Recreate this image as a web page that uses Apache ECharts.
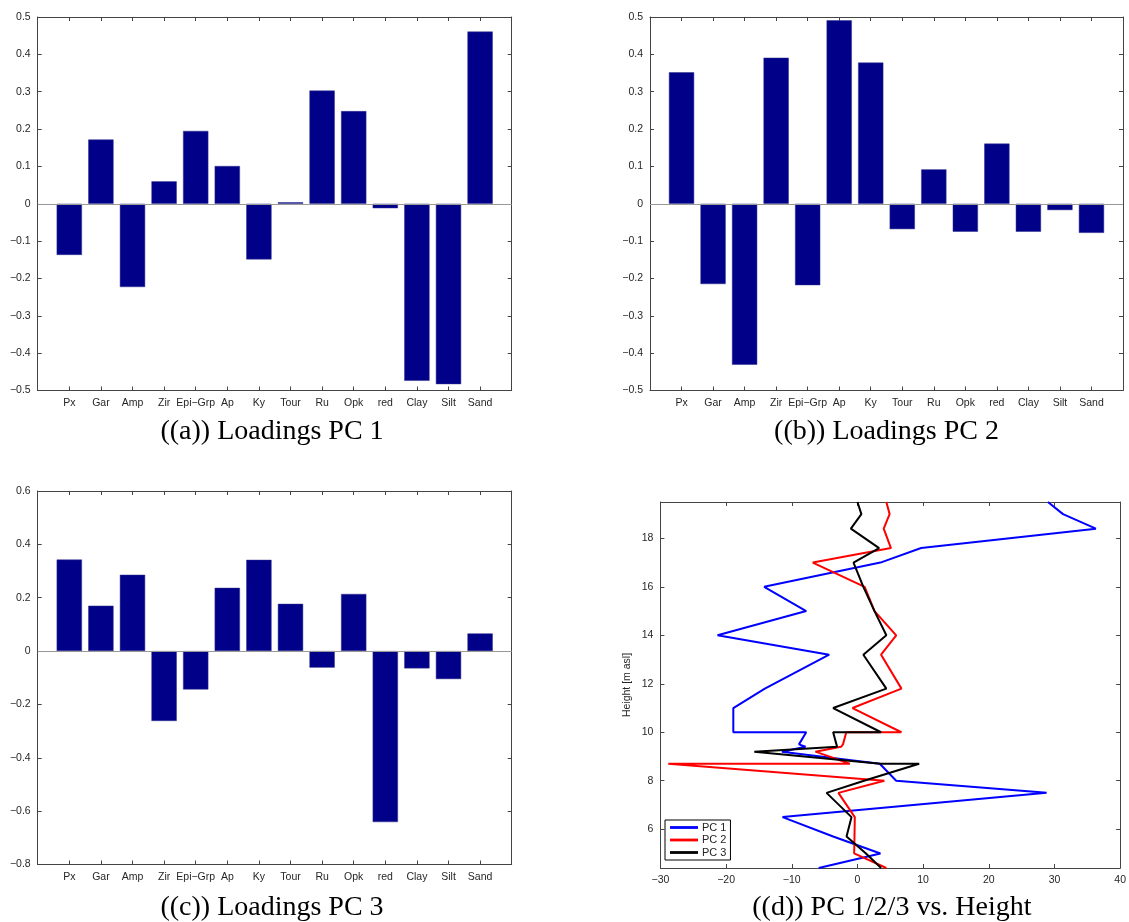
<!DOCTYPE html>
<html>
<head>
<meta charset="utf-8">
<script src="https://cdn.jsdelivr.net/npm/echarts@6/dist/echarts.min.js"></script>
<style>
html,body{margin:0;padding:0;background:#fff;}
#chart{width:1129px;height:922px;}
</style>
</head>
<body>
<div id="chart"></div>
<script>
// ---------- data ----------
const categories = ['Px','Gar','Amp','Zir','Epi\u2212Grp','Ap','Ky','Tour','Ru','Opk','red','Clay','Silt','Sand'];
const loadingsPC1 = [-0.137, 0.172, -0.223, 0.060, 0.195, 0.101, -0.149, 0.004, 0.303, 0.248, -0.012, -0.474, -0.483, 0.461];
const loadingsPC2 = [0.352, -0.215, -0.431, 0.391, -0.218, 0.491, 0.378, -0.068, 0.092, -0.075, 0.161, -0.075, -0.017, -0.078];
const loadingsPC3 = [0.343, 0.170, 0.286, -0.262, -0.144, 0.237, 0.342, 0.177, -0.062, 0.214, -0.641, -0.065, -0.105, 0.066];

const heights = [19.5, 19.0, 18.4, 17.6, 17.0, 16.0, 15.0, 14.0, 13.2, 11.8, 11.0, 10.0, 10.0, 9.5, 9.4, 9.2, 8.7, 8.7, 8.0, 7.5, 6.5, 5.7, 5.0, 4.4];
const scorePC1 = [29.0, 31.3, 36.3, 9.7, 3.5, -14.2, -7.8, -21.3, -4.3, -14.1, -18.9, -18.9, -7.8, -8.9, -7.9, -11.5, 3.4, 3.6, 5.9, 28.8, -11.4, -3.7, 3.5, -5.9];
const scorePC2 = [4.4, 4.9, 4.0, 5.1, -6.8, 1.1, 2.6, 5.9, 3.6, 6.7, -0.75, 6.7, -1.7, -2.2, -2.5, -6.4, -1.15, -28.8, 4.1, -2.9, -0.4, -0.45, -0.5, 4.4];
const scorePC3 = [0.0, 0.6, -1.0, 3.3, -0.6, 0.9, 2.6, 4.4, 0.9, 4.4, -3.7, 3.6, -3.7, -3.2, -3.1, -15.7, 3.5, 9.4, 1.0, -4.7, -0.9, -1.66, 1.3, 3.6];
const heightTicks = [6, 8, 10, 12, 14, 16, 18];
const seriesNames = ['PC 1', 'PC 2', 'PC 3'];
const captions = ['((a)) Loadings PC 1', '((b)) Loadings PC 2', '((c)) Loadings PC 3', '((d)) PC 1/2/3 vs. Height'];

// ---------- styling ----------
const AX = '#444';
const TXT = '#262626';
const FONT = "'Liberation Sans', Arial, Helvetica, sans-serif";
const FS = 10.5;
const BAR = '#000088';
const fmt1 = v => (Math.round(v * 10) / 10).toString().replace('-', '\u2212');
const fmt0 = v => Math.round(v).toString().replace('-', '\u2212');

const grids = [
  {left: 37.7, top: 17, width: 474, height: 373.5},
  {left: 650, top: 17, width: 473, height: 373.5},
  {left: 37.7, top: 491, width: 474, height: 373.5},
  {left: 660.4, top: 502, width: 463, height: 366}
];

const catIdx = categories.map((c, i) => i + 1);
function baseAxis(extra) {
  return Object.assign({
    axisLine: {show: true, onZero: false, lineStyle: {color: AX, width: 1}},
    axisTick: {show: true, inside: true, length: 4, lineStyle: {color: AX, width: 1}},
    splitLine: {show: false},
    axisLabel: {color: TXT, fontFamily: FONT, fontSize: FS, margin: 7}
  }, extra);
}

const xAxes = [], yAxes = [], series = [];
const barSets = [loadingsPC1, loadingsPC2, loadingsPC3];
const yRanges = [[-0.5, 0.5, 0.1], [-0.5, 0.5, 0.1], [-0.8, 0.6, 0.2]];

barSets.forEach((vals, g) => {
  const xi = xAxes.length;
  xAxes.push(baseAxis({type: 'value', gridIndex: g, position: 'bottom', min: 0, max: 15,
    axisTick: {show: true, inside: true, length: 4, customValues: catIdx, lineStyle: {color: AX}},
    axisLabel: {color: TXT, fontFamily: FONT, fontSize: FS, margin: 7, customValues: catIdx,
      formatter: v => categories[Math.round(v) - 1] || ''}}));
  xAxes.push(baseAxis({type: 'value', gridIndex: g, position: 'top', min: 0, max: 15,
    axisTick: {show: true, inside: true, length: 4, customValues: catIdx, lineStyle: {color: AX}},
    axisLabel: {show: false}}));
  const yi = yAxes.length;
  const r = yRanges[g];
  yAxes.push(baseAxis({type: 'value', gridIndex: g, position: 'left', min: r[0], max: r[1], interval: r[2],
    axisLabel: {color: TXT, fontFamily: FONT, fontSize: FS, margin: 7, formatter: fmt1}}));
  yAxes.push(baseAxis({type: 'value', gridIndex: g, position: 'right', min: r[0], max: r[1], interval: r[2],
    axisLabel: {show: false}}));
  series.push({
    type: 'bar', xAxisIndex: xi, yAxisIndex: yi,
    data: vals.map((v, i) => [i + 1, v]),
    barWidth: grids[g].width * 0.8 / 15,
    itemStyle: {color: BAR, borderColor: '#30308f', borderWidth: 0.5},
    markLine: {silent: true, symbol: 'none', label: {show: false},
      lineStyle: {color: '#999', width: 1, type: 'solid'},
      data: [{yAxis: 0}]},
    animation: false
  });
});

// panel d
const dxi = xAxes.length;
xAxes.push(baseAxis({type: 'value', gridIndex: 3, position: 'bottom', min: -30, max: 40, interval: 10,
  axisLabel: {color: TXT, fontFamily: FONT, fontSize: FS, margin: 7, formatter: fmt0}}));
xAxes.push(baseAxis({type: 'value', gridIndex: 3, position: 'top', min: -30, max: 40, interval: 10,
  axisLabel: {show: false}}));
const dyi = yAxes.length;
yAxes.push(baseAxis({type: 'value', gridIndex: 3, position: 'left', min: 4.4, max: 19.5,
  name: 'Height [m asl]', nameLocation: 'middle', nameGap: 28,
  nameTextStyle: {color: TXT, fontFamily: FONT, fontSize: 10.5},
  axisTick: {show: true, inside: true, length: 4, customValues: heightTicks, lineStyle: {color: AX}},
  axisLabel: {color: TXT, fontFamily: FONT, fontSize: FS, margin: 7, customValues: heightTicks, formatter: fmt0}}));
yAxes.push(baseAxis({type: 'value', gridIndex: 3, position: 'right', min: 4.4, max: 19.5,
  axisTick: {show: true, inside: true, length: 4, customValues: heightTicks, lineStyle: {color: AX}},
  axisLabel: {show: false}}));

const lineColors = ['#0000ff', '#ff0000', '#000000'];
[scorePC1, scorePC2, scorePC3].forEach((vals, k) => {
  series.push({
    type: 'line', name: seriesNames[k], xAxisIndex: dxi, yAxisIndex: dyi,
    data: vals.map((v, i) => [v, heights[i]]),
    showSymbol: false, symbol: 'none',
    lineStyle: {color: lineColors[k], width: 2},
    itemStyle: {color: lineColors[k]},
    clip: true, animation: false
  });
});

const capPos = [[272, 432], [886.5, 432], [272, 908], [891.9, 908]];
const graphic = captions.map((t, i) => ({
  type: 'text', x: capPos[i][0], y: capPos[i][1],
  style: {text: t, fill: '#000', font: "28px 'Liberation Serif', 'Times New Roman', serif",
    textAlign: 'center', textVerticalAlign: 'middle'}
}));

const chart = echarts.init(document.getElementById('chart'), null, {renderer: 'canvas'});
chart.setOption({
  backgroundColor: '#fff',
  animation: false,
  grid: grids.map(g => Object.assign({containLabel: false}, g)),
  xAxis: xAxes,
  yAxis: yAxes,
  series: series,
  legend: {
    data: seriesNames, orient: 'vertical', left: 665, top: 820,
    backgroundColor: '#fff', borderColor: '#000', borderWidth: 1, padding: [2, 4, 2, 5],
    itemGap: 1.5, itemWidth: 28, itemHeight: 11,
    icon: 'path://M0,45 L100,45 L100,55 L0,55 Z',
    textStyle: {color: TXT, fontFamily: FONT, fontSize: 11, padding: [0, 0, 0, -1]}
  },
  graphic: graphic
});
</script>
</body>
</html>
